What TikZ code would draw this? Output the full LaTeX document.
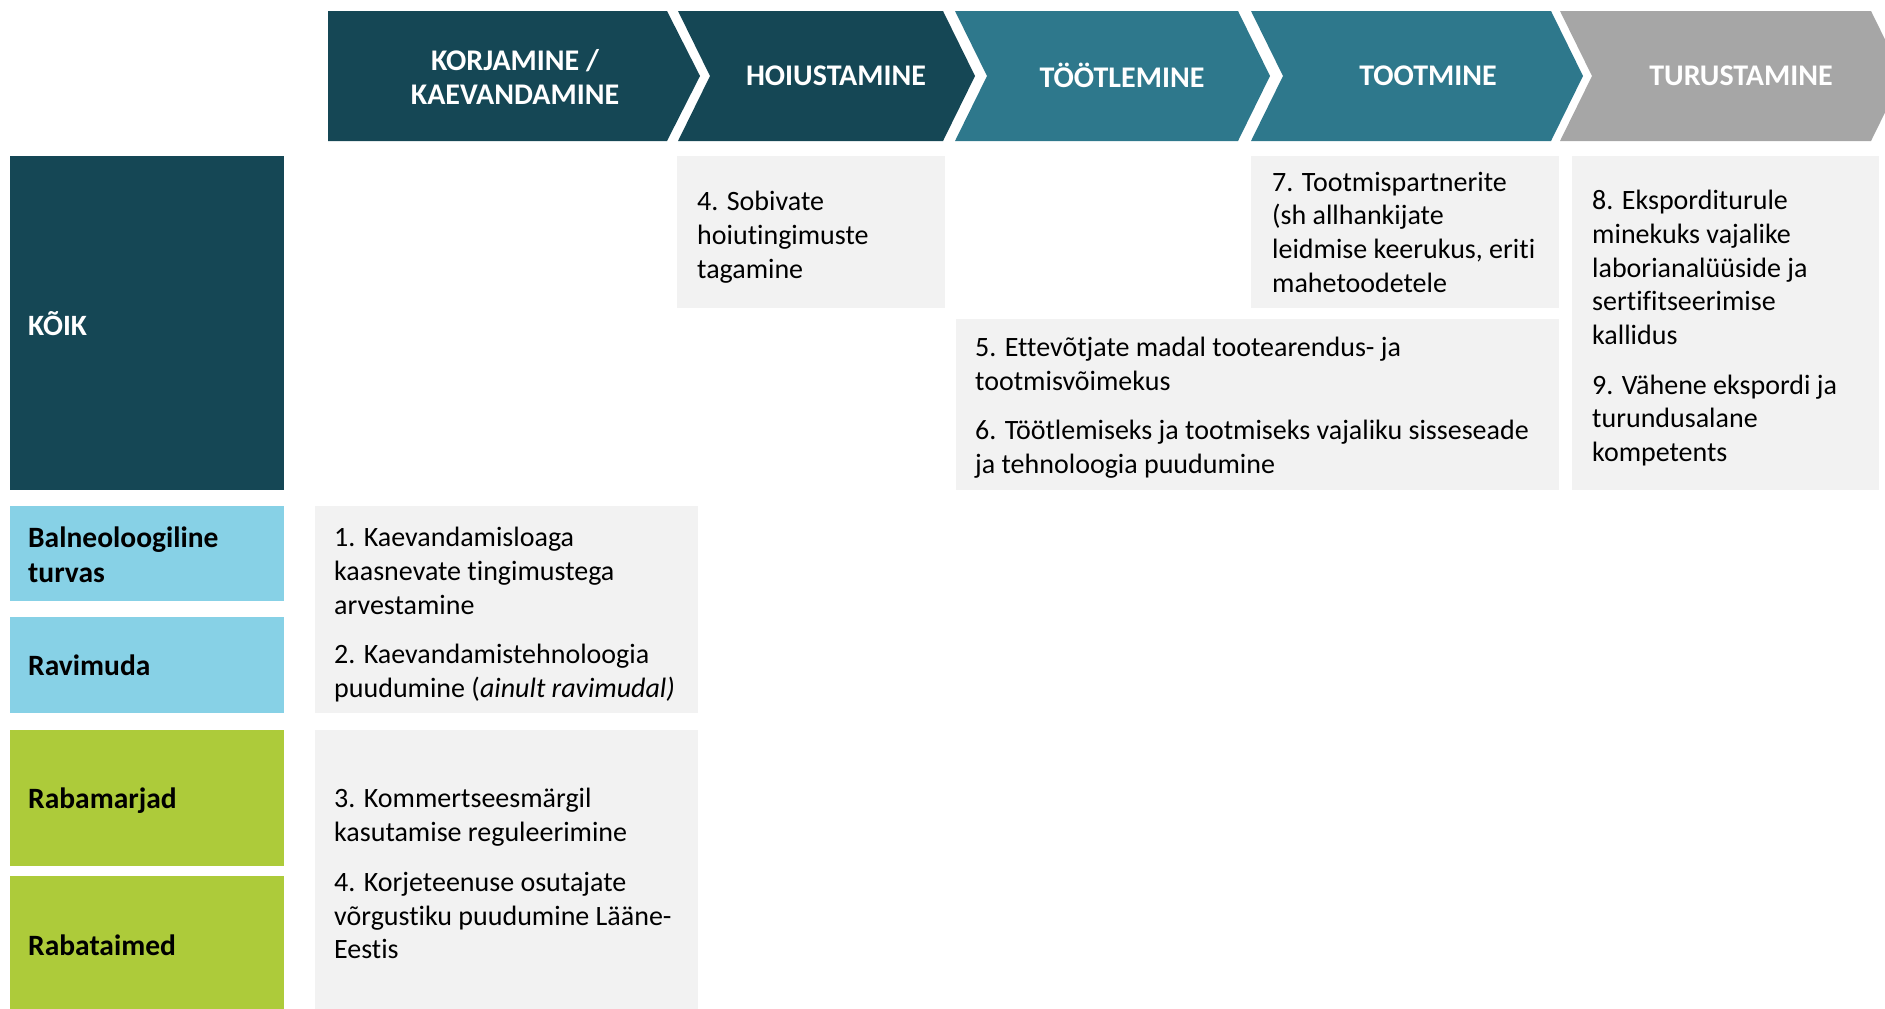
\documentclass[tikz,border=0pt]{standalone}
\usepackage{fontspec}
\setmainfont{Carlito}[Ligatures={NoCommon}]
\definecolor{cdark}{HTML}{154755}
\definecolor{cteal}{HTML}{2E788C}
\definecolor{cgrey}{HTML}{A6A6A6}
\definecolor{cblue}{HTML}{87D1E6}
\definecolor{cgreen}{HTML}{ADCB3A}
\definecolor{cbox}{HTML}{F2F2F2}
\tikzset{
  cell/.style={fill=cbox, draw=none, anchor=north west, inner sep=0pt},
  lab/.style={anchor=north west, inner sep=0pt},
  txt/.style={anchor=west, inner sep=0pt, align=left, text=black, font=\fontsize{28}{33.7}\selectfont},
  labtxt/.style={anchor=west, inner sep=0pt, align=left, font=\fontsize{29.5}{35}\selectfont\bfseries},
  head/.style={inner sep=0pt, align=center, text=white, font=\fontsize{30}{34}\selectfont\bfseries},
}
\begin{document}
\begin{tikzpicture}[x=1pt,y=-1pt]
\useasboundingbox (0,0) rectangle (1885,1009);
\clip (0,0) rectangle (1885,1009);
% chevrons
\fill[cdark] (328,11) -- (667,11) -- (700,76) -- (667,141) -- (328,141) -- cycle;
\fill[cdark] (678,11) -- (943,11) -- (975,76) -- (943,141) -- (678,141) -- (710,76) -- cycle;
\fill[cteal] (955,11) -- (1238,11) -- (1270,76) -- (1238,141) -- (955,141) -- (987,76) -- cycle;
\fill[cteal] (1251,11) -- (1551,11) -- (1583,76) -- (1551,141) -- (1251,141) -- (1283,76) -- cycle;
\fill[cgrey] (1560,11) -- (1871,11) -- (1903,76) -- (1871,141) -- (1560,141) -- (1592,76) -- cycle;
\node[head] (h1) at (515,77) {KORJAMINE /\\KAEVANDAMINE};
\node[head] (h2) at (836,76) {HOIUSTAMINE};
\node[head] (h3) at (1122,75) {TÖÖTLEMINE};
\node[head] (h4) at (1428,76) {TOOTMINE};
\node[head] (h5) at (1741,76) {TURUSTAMINE};
% left labels
\node[lab, fill=cdark, minimum width=274pt, minimum height=334pt] (l0) at (10,156) {};
\node[labtxt, text=white] (lt0) at ([xshift=18pt]l0.west) {KÕIK};
\node[lab, fill=cblue, minimum width=274pt, minimum height=95pt] (l1) at (10,506) {};
\node[labtxt] (lt1) at ([xshift=18pt,yshift=-1pt]l1.west) {Balneoloogiline\\turvas};
\node[lab, fill=cblue, minimum width=274pt, minimum height=96pt] (l2) at (10,617) {};
\node[labtxt] (lt2) at ([xshift=18pt]l2.west) {Ravimuda};
\node[lab, fill=cgreen, minimum width=274pt, minimum height=136pt] (l3) at (10,730) {};
\node[labtxt] (lt3) at ([xshift=18pt,yshift=-2pt]l3.west) {Rabamarjad};
\node[lab, fill=cgreen, minimum width=274pt, minimum height=133pt] (l4) at (10,876) {};
\node[labtxt] (lt4) at ([xshift=18pt,yshift=-3pt]l4.west) {Rabataimed};
% grey cells
\node[cell, minimum width=268pt, minimum height=152pt] (b4) at (677,156) {};
\node[txt] (t4) at ([xshift=20pt,yshift=-5pt]b4.west) {4. Sobivate\\hoiutingimuste\\tagamine};
\node[cell, minimum width=308pt, minimum height=152pt] (b7) at (1251,156) {};
\node[txt] (t7) at ([xshift=21pt]b7.west) {7. Tootmispartnerite\\(sh allhankijate\\leidmise keerukus, eriti\\mahetoodetele};
\node[cell, minimum width=307pt, minimum height=334pt] (b89) at (1572,156) {};
\node[txt] (t89) at ([xshift=20pt,yshift=-5pt]b89.west) {8. Eksporditurule\\minekuks vajalike\\laborianalüüside ja\\sertifitseerimise\\kallidus\\[16pt]9. Vähene ekspordi ja\\turundusalane\\kompetents};
\node[cell, minimum width=603pt, minimum height=171pt] (b56) at (956,319) {};
\node[txt] (t56) at ([xshift=19pt,yshift=-3pt]b56.west) {5. Ettevõtjate madal tootearendus- ja\\tootmisvõimekus\\[16pt]6. Töötlemiseks ja tootmiseks vajaliku sisseseade\\ja tehnoloogia puudumine};
\node[cell, minimum width=383pt, minimum height=207pt] (b12) at (315,506) {};
\node[txt] (t12) at ([xshift=19pt,yshift=-5pt]b12.west) {1. Kaevandamisloaga\\kaasnevate tingimustega\\arvestamine\\[16pt]2. Kaevandamistehnoloogia\\puudumine (\textit{ainult ravimudal)}};
\node[cell, minimum width=383pt, minimum height=279pt] (b34) at (315,730) {};
\node[txt] (t34) at ([xshift=19pt,yshift=-4pt]b34.west) {3. Kommertseesmärgil\\kasutamise reguleerimine\\[16pt]4. Korjeteenuse osutajate\\võrgustiku puudumine Lääne-\\Eestis};
\end{tikzpicture}
\end{document}
